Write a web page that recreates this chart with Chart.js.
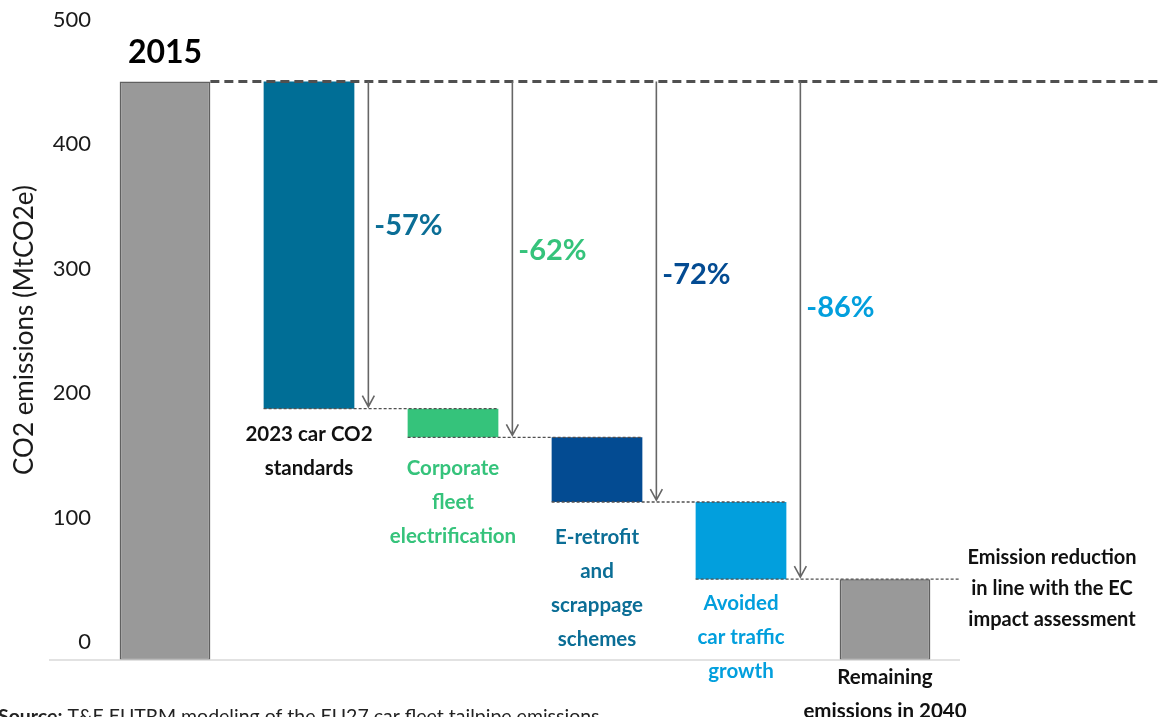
<!DOCTYPE html>
<html>
<head>
<meta charset="utf-8">
<script src="https://cdn.jsdelivr.net/npm/chart.js@4.4.1/dist/chart.umd.min.js"></script>
<style>
  body { margin: 0; background: #fff; }
  #wrap { width: 1161px; height: 717px; position: relative; }
</style>
</head>
<body>
<div id="wrap"><canvas id="waterfall"></canvas></div>
<script>
// categories of the waterfall
const categories = ['2015', '2023 car CO2 standards', 'Corporate fleet electrification',
  'E-retrofit and scrappage schemes', 'Avoided car traffic growth', 'Remaining emissions in 2040'];
const labelLines = [
  ['2015'],
  ['2023 car CO2', 'standards'],
  ['Corporate', 'fleet', 'electrification'],
  ['E-retrofit', 'and', 'scrappage', 'schemes'],
  ['Avoided', 'car traffic', 'growth'],
  ['Remaining', 'emissions in 2040']
];
// MtCO2e
const startValue = 465;
const stepCuts = [263, 23, 52, 62];
const remainingValue = 65;
const pctLabels = ['-57%', '-62%', '-72%', '-86%'];
const yTicks = [0, 100, 200, 300, 400, 500];
const noteLines = ['Emission reduction', 'in line with the EC', 'impact assessment'];

const barColors = ['#999999', '#006e96', '#35c37b', '#034b92', '#029fdd', '#999999'];
const textColors = ['#000000', '#111111', '#35c37b', '#0b6e96', '#029fdd', '#111111'];
const pctColors = ['#0b6e96', '#35c37b', '#034b92', '#029fdd'];
// gap (px) between a bar's bottom and its first label line, and pct label placement
const labelGap = [0, 26, 31, 35, 24, 17];
const pctPos = [0.44, 0.475, 0.46, 0.455];

// floating bars: [low, high]
let level = startValue;
const barData = [[0, startValue]];
stepCuts.forEach(c => {
  barData.push([level - c, level]);
  level -= c;
});
barData.push([0, remainingValue]);

const FONT = 'Lato, "Open Sans", sans-serif';

const decorPlugin = {
  id: 'decor',
  afterDatasetsDraw(chart) {
    const ctx = chart.ctx;
    const y = chart.scales.y;
    const area = chart.chartArea;
    const bars = chart.getDatasetMeta(0).data;
    const base = y.getPixelForValue(0);
    const topY = y.getPixelForValue(startValue);
    ctx.save();

    // baseline
    ctx.strokeStyle = '#d9d9d9';
    ctx.lineWidth = 1.5;
    ctx.beginPath();
    ctx.moveTo(area.left - 44, base);
    ctx.lineTo(area.right + 3, base);
    ctx.stroke();

    // 2015 level dashed line
    ctx.strokeStyle = '#505050';
    ctx.lineWidth = 3;
    ctx.setLineDash([9, 5]);
    ctx.beginPath();
    ctx.moveTo(bars[0].x + bars[0].width / 2, topY);
    ctx.lineTo(chart.width, topY);
    ctx.stroke();

    // connectors, arrows, percentages
    for (let i = 1; i <= stepCuts.length; i++) {
      const b = bars[i];
      const yb = y.getPixelForValue(barData[i][0]);
      const xEnd = i < stepCuts.length ? bars[i + 1].x + bars[i + 1].width / 2 : area.right + 3;
      ctx.strokeStyle = '#505050';
      ctx.lineWidth = 1.3;
      ctx.setLineDash([3, 2]);
      ctx.beginPath();
      ctx.moveTo(b.x - b.width / 2, yb);
      ctx.lineTo(xEnd, yb);
      ctx.stroke();

      const ax = b.x + b.width / 2 + 14;
      const tip = yb - 2;
      ctx.setLineDash([]);
      ctx.strokeStyle = '#666666';
      ctx.lineWidth = 1.6;
      ctx.beginPath();
      ctx.moveTo(ax, topY);
      ctx.lineTo(ax, tip);
      ctx.moveTo(ax - 6, tip - 11);
      ctx.lineTo(ax, tip);
      ctx.lineTo(ax + 6, tip - 11);
      ctx.stroke();

      ctx.fillStyle = pctColors[i - 1];
      ctx.font = 'bold 29px ' + FONT;
      ctx.textAlign = 'left';
      ctx.textBaseline = 'middle';
      ctx.fillText(pctLabels[i - 1], ax + 6, topY + (yb - topY) * pctPos[i - 1]);
    }

    // 2015 label
    ctx.fillStyle = '#000';
    ctx.font = 'bold 32px ' + FONT;
    ctx.textAlign = 'center';
    ctx.textBaseline = 'middle';
    ctx.fillText(labelLines[0][0], bars[0].x, topY - 29);

    // category labels under each bar
    ctx.font = 'bold 20.5px ' + FONT;
    for (let i = 1; i < bars.length; i++) {
      const bottom = y.getPixelForValue(barData[i][0]);
      const startY = bottom + labelGap[i];
      ctx.fillStyle = textColors[i];
      labelLines[i].forEach((t, k) => ctx.fillText(t, bars[i].x, startY + k * 34));
    }

    // side note
    const remTop = y.getPixelForValue(remainingValue);
    ctx.fillStyle = '#111';
    ctx.font = 'bold 20px ' + FONT;
    noteLines.forEach((t, k) => ctx.fillText(t, area.right + 95, remTop - 22 + k * 31));

    // y axis title
    ctx.save();
    ctx.translate(25, 330);
    ctx.rotate(-Math.PI / 2);
    ctx.font = '26px ' + FONT;
    ctx.fillStyle = '#1a1a1a';
    ctx.fillText('CO2 emissions (MtCO2e)', 0, 0);
    ctx.restore();

    // source line
    ctx.textAlign = 'left';
    ctx.textBaseline = 'top';
    ctx.font = 'bold 19.5px ' + FONT;
    ctx.fillStyle = '#222';
    ctx.fillText('Source:', -2, 707);
    const w = ctx.measureText('Source:').width;
    ctx.font = '19.5px ' + FONT;
    ctx.fillText(' T&E EUTRM modeling of the EU27 car fleet tailpipe emissions', -2 + w, 707);

    ctx.restore();
  }
};

new Chart(document.getElementById('waterfall'), {
  type: 'bar',
  data: {
    labels: categories,
    datasets: [{
      data: barData,
      backgroundColor: barColors,
      borderColor: ['#606060', barColors[1], barColors[2], barColors[3], barColors[4], '#606060'],
      borderWidth: [1.5, 0, 0, 0, 0, 1.5],
      borderSkipped: false,
      categoryPercentage: 1,
      barPercentage: 0.63
    }]
  },
  options: {
    responsive: true,
    maintainAspectRatio: false,
    animation: false,
    layout: { padding: { top: 38, bottom: 57, right: 204, left: 0 } },
    plugins: { legend: { display: false }, tooltip: { enabled: false } },
    scales: {
      x: { display: false },
      y: {
        min: 0,
        max: 500,
        afterBuildTicks: scale => { scale.ticks = yTicks.map(v => ({ value: v })); },
        afterFit: scale => { scale.width = 93; },
        grid: { display: false, drawTicks: false },
        border: { display: false },
        ticks: {
          padding: 2,
          labelOffset: -18,
          color: '#1a1a1a',
          font: { family: FONT, size: 22 }
        }
      }
    }
  },
  plugins: [decorPlugin]
});
</script>
</body>
</html>
